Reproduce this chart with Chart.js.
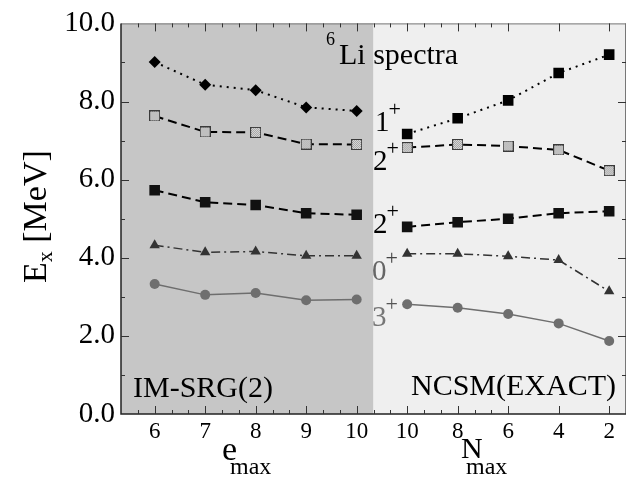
<!DOCTYPE html>
<html>
<head>
<meta charset="utf-8">
<script src="https://cdn.jsdelivr.net/npm/chart.js@4/dist/chart.umd.min.js"></script>
<style>
  html, body { margin: 0; padding: 0; background: #fff; }
  #wrap { width: 638px; height: 478px; }
</style>
</head>
<body>
<div id="wrap"><canvas id="spectra" width="638" height="478"></canvas></div>
<script>
// x values (left panel: e_max, right panel: N_max)
const emax = [6, 7, 8, 9, 10];
const nmax = [10, 8, 6, 4, 2];
const yTicks = [0, 2, 4, 6, 8, 10];

// IM-SRG(2) excitation energies [MeV]
const srg1p  = [9.01, 8.43, 8.29, 7.85, 7.76];
const srg2pB = [7.63, 7.22, 7.21, 6.91, 6.90];
const srg2pA = [5.73, 5.42, 5.35, 5.14, 5.10];
const srg0p  = [4.32, 4.14, 4.16, 4.05, 4.05];
const srg3p  = [3.33, 3.05, 3.10, 2.91, 2.93];

// NCSM (exact) excitation energies [MeV]
const ncsm1p  = [7.17, 7.57, 8.03, 8.73, 9.20];
const ncsm2pB = [6.82, 6.90, 6.86, 6.76, 6.23];
const ncsm2pA = [4.79, 4.91, 5.00, 5.14, 5.19];
const ncsm0p  = [4.10, 4.10, 4.04, 3.94, 3.14];
const ncsm3p  = [2.81, 2.72, 2.56, 2.32, 1.87];

// N_max is drawn on the same linear axis, right of the e_max panel
const nPos = n => 11 + (10 - n) / 2;
const split = 10 + 1 / 3;

function leftPts(vals) {
  return emax.map((e, i) => ({ x: e, y: vals[i] }));
}
function rightPts(vals) {
  return nmax.map((n, i) => ({ x: nPos(n), y: vals[i] }));
}

// dotted grey square marker
function patternSquare() {
  const c = document.createElement('canvas');
  c.width = 11; c.height = 11;
  const g = c.getContext('2d');
  g.fillStyle = '#e4e4e4';
  g.fillRect(0, 0, 11, 11);
  g.fillStyle = '#9a9a9a';
  for (let i = 1; i < 10; i++) {
    for (let j = 1; j < 10; j++) {
      if ((i + j) % 2 === 0) g.fillRect(i, j, 1, 1);
    }
  }
  g.strokeStyle = '#3a3a3a';
  g.lineWidth = 1;
  g.strokeRect(0.5, 0.5, 10, 10);
  return c;
}
const lightSq = patternSquare();

const styles = {
  one:  { borderColor: '#000', borderDash: [2, 5], borderWidth: 2 },
  twoB: { borderColor: '#000', borderDash: [9, 5], borderWidth: 2 },
  twoA: { borderColor: '#000', borderDash: [9, 5], borderWidth: 2 },
  zero: { borderColor: '#333', borderDash: [9, 4, 2, 4], borderWidth: 1.5 },
  three:{ borderColor: '#6e6e6e', borderDash: [], borderWidth: 1.5 }
};

function ds(pts, st, pointStyle, radius, fill) {
  return Object.assign({
    data: pts,
    pointStyle: pointStyle,
    pointRadius: radius,
    pointBackgroundColor: fill,
    pointBorderColor: fill,
    pointBorderWidth: 0,
    tension: 0,
    fill: false
  }, st);
}

const datasets = [
  ds(leftPts(srg1p), styles.one, 'rectRot', 6, '#000'),
  ds(leftPts(srg2pB), styles.twoB, lightSq, 7, '#ccc'),
  ds(leftPts(srg2pA), styles.twoA, 'rect', 7.5, '#111'),
  ds(leftPts(srg0p), styles.zero, 'triangle', 6, '#333'),
  ds(leftPts(srg3p), styles.three, 'circle', 5, '#6e6e6e'),
  ds(rightPts(ncsm1p), styles.one, 'rect', 7.5, '#000'),
  ds(rightPts(ncsm2pB), styles.twoB, lightSq, 7, '#ccc'),
  ds(rightPts(ncsm2pA), styles.twoA, 'rect', 7.5, '#111'),
  ds(rightPts(ncsm0p), styles.zero, 'triangle', 6, '#333'),
  ds(rightPts(ncsm3p), styles.three, 'circle', 5, '#6e6e6e')
];

const serif = 'Liberation Serif';

// panel backgrounds
const panels = {
  id: 'panels',
  beforeDatasetsDraw(chart) {
    const { ctx, chartArea: a, scales: { x } } = chart;
    const xs = x.getPixelForValue(split);
    ctx.save();
    ctx.fillStyle = '#c6c6c6';
    ctx.fillRect(a.left, a.top, xs - a.left, a.bottom - a.top);
    ctx.fillStyle = '#efefef';
    ctx.fillRect(xs, a.top, a.right - xs, a.bottom - a.top);
    ctx.restore();
  }
};

// frame, inward ticks and text
const decor = {
  id: 'decor',
  afterDraw(chart) {
    const { ctx, chartArea: a, scales: { x, y } } = chart;
    ctx.save();
    // frame
    ctx.strokeStyle = '#777';
    ctx.lineWidth = 1;
    ctx.beginPath();
    ctx.moveTo(a.left, a.top + 0.5); ctx.lineTo(a.right, a.top + 0.5);
    ctx.moveTo(a.right - 0.5, a.top); ctx.lineTo(a.right - 0.5, a.bottom);
    ctx.stroke();
    ctx.strokeStyle = '#222';
    ctx.lineWidth = 1.5;
    ctx.beginPath();
    ctx.moveTo(a.left, a.top); ctx.lineTo(a.left, a.bottom); ctx.lineTo(a.right, a.bottom);
    ctx.stroke();

    // x ticks
    ctx.strokeStyle = '#333';
    ctx.lineWidth = 1;
    ctx.beginPath();
    for (let k = 0; k <= 21; k++) {
      const v = 5 + 2 / 3 + k / 3;
      const major = Math.abs(v - Math.round(v)) < 0.01;
      const len = major ? 8 : 4;
      const px = Math.round(x.getPixelForValue(v)) + 0.5;
      ctx.moveTo(px, a.bottom); ctx.lineTo(px, a.bottom - len);
      ctx.moveTo(px, a.top); ctx.lineTo(px, a.top + len);
    }
    [13, 14, 15].forEach(v => {
      const px = Math.round(x.getPixelForValue(v)) + 0.5;
      ctx.moveTo(px, a.bottom); ctx.lineTo(px, a.bottom - 8);
      ctx.moveTo(px, a.top); ctx.lineTo(px, a.top + 8);
    });
    // y ticks
    for (let v = 1; v <= 9; v++) {
      const len = v % 2 === 0 ? 8 : 4;
      const py = Math.round(y.getPixelForValue(v)) + 0.5;
      ctx.moveTo(a.left, py); ctx.lineTo(a.left + len, py);
      ctx.moveTo(a.right, py); ctx.lineTo(a.right - len, py);
    }
    ctx.stroke();

    // labels
    ctx.textAlign = 'left';
    ctx.textBaseline = 'alphabetic';
    const put = (t, px, py, size, color) => {
      ctx.font = size + 'px "' + serif + '"';
      ctx.fillStyle = color;
      ctx.fillText(t, px, py);
      return ctx.measureText(t).width;
    };
    const state = (base, bx, by, baseColor, plusColor) => {
      const w = put(base, bx, by, 29, baseColor);
      put('+', bx + w - 1, by - 15, 22, plusColor);
    };

    let w = put('6', 326, 45, 18, '#000');
    put('Li spectra', 339, 64, 30, '#000');
    state('1', 375, 131, '#000', '#000');
    state('2', 373, 170, '#000', '#000');
    state('2', 373, 233, '#000', '#000');
    state('0', 372, 280, '#666', '#444');
    state('3', 372, 326, '#777', '#555');

    put('IM-SRG(2)', 133, 397, 30, '#000');
    put('NCSM(EXACT)', 411, 395, 30, '#000');

    // axis titles
    w = put('e', 222, 460, 34, '#000');
    put('max', 230, 474, 24, '#000');
    w = put('N', 461, 458, 30, '#000');
    put('max', 466, 474, 24, '#000');

    ctx.translate(46, 283);
    ctx.rotate(-Math.PI / 2);
    w = put('E', 0, 0, 34, '#000');
    const w2 = put('x', w, 6, 22, '#000');
    put(' [MeV]', w + w2, 0, 34, '#000');
    ctx.restore();
  }
};

new Chart(document.getElementById('spectra'), {
  type: 'line',
  data: { datasets: datasets },
  options: {
    responsive: false,
    animation: false,
    layout: { padding: { top: 21, right: 12, left: 0, bottom: 0 } },
    plugins: { legend: { display: false }, tooltip: { enabled: false } },
    scales: {
      x: {
        type: 'linear',
        min: 5 + 1 / 3,
        max: 15 + 1 / 3,
        grid: { display: false, drawTicks: false },
        border: { display: false },
        afterFit(scale) { scale.height = 64; },
        afterBuildTicks(scale) {
          scale.ticks = emax.concat(nmax.map(nPos)).map(v => ({ value: v }));
        },
        ticks: {
          padding: 4,
          color: '#000',
          font: { family: serif, size: 23 },
          maxRotation: 0,
          autoSkip: false,
          callback: v => v <= 10 ? String(v) : String(10 - (v - 11) * 2)
        }
      },
      y: {
        min: 0,
        max: 10,
        grid: { display: false, drawTicks: false },
        border: { display: false },
        afterFit(scale) { scale.width = 121; },
        afterBuildTicks(scale) {
          scale.ticks = yTicks.map(v => ({ value: v }));
        },
        ticks: {
          padding: 6,
          color: '#000',
          font: { family: serif, size: 29 },
          callback: v => v.toFixed(1)
        }
      }
    }
  },
  plugins: [panels, decor]
});
</script>
</body>
</html>
